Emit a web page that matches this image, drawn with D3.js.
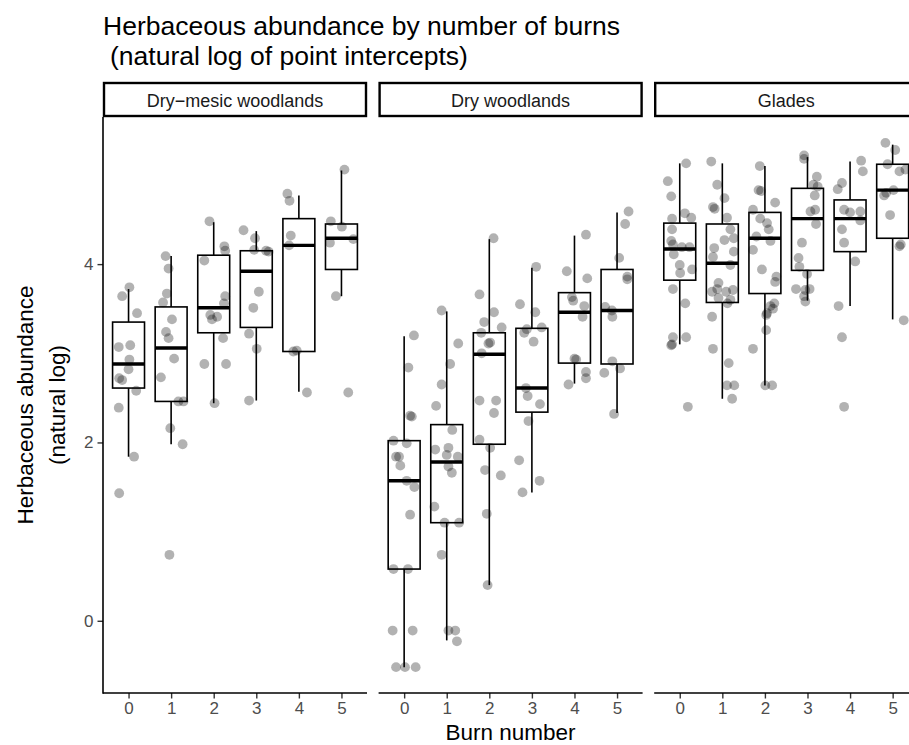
<!DOCTYPE html>
<html>
<head>
<meta charset="utf-8">
<script src="https://cdn.jsdelivr.net/npm/d3@7"></script>
<style>
  body { margin: 0; background: #fff; }
  svg { display: block; font-family: "Liberation Sans", Arial, Helvetica, sans-serif; }
</style>
</head>
<body>
<div id="chart"></div>
<script>
var facets = ["Dry\u2212mesic woodlands", "Dry woodlands", "Glades"]
var burns = [0, 1, 2, 3, 4, 5]
var yTicks = [0, 2, 4]

// points: [burn, ln(abundance), horizontal jitter in burn units]
var dryMesicPoints = [
  [0, 3.74, 0.02], [0, 3.64, -0.15], [0, 3.45, 0.20], [0, 3.07, -0.23], [0, 3.09, 0.04],
  [0, 2.93, 0.02], [0, 2.82, 0.00], [0, 2.72, -0.22], [0, 2.70, -0.15], [0, 2.58, 0.18],
  [0, 2.39, -0.23], [0, 1.84, 0.13], [0, 1.43, -0.22],
  [1, 4.09, -0.13], [1, 3.95, -0.06], [1, 3.67, -0.10], [1, 3.57, -0.19], [1, 3.38, 0.02],
  [1, 3.24, -0.12], [1, 3.17, -0.06], [1, 2.94, 0.07], [1, 2.73, -0.24], [1, 2.46, 0.17],
  [1, 2.46, 0.29], [1, 2.16, -0.02], [1, 1.98, 0.27], [1, 0.74, -0.04],
  [2, 4.48, -0.10], [2, 4.20, 0.25], [2, 4.15, 0.27], [2, 4.04, -0.22], [2, 3.64, 0.27],
  [2, 3.56, 0.24], [2, 3.43, -0.08], [2, 3.41, 0.08], [2, 3.38, -0.04], [2, 3.17, 0.22],
  [2, 2.88, -0.22], [2, 2.88, 0.29], [2, 2.44, 0.02],
  [3, 4.38, -0.30], [3, 4.29, -0.03], [3, 4.16, -0.05], [3, 4.15, 0.23], [3, 4.14, 0.29],
  [3, 3.69, 0.06], [3, 3.51, -0.07], [3, 3.22, -0.17], [3, 3.05, 0.01], [3, 2.47, -0.17],
  [4, 4.79, -0.27], [4, 4.71, -0.22], [4, 4.32, -0.19], [4, 4.21, -0.23], [4, 3.03, -0.05],
  [4, 3.02, -0.13], [4, 2.56, 0.19],
  [5, 5.06, 0.07], [5, 4.48, -0.25], [5, 4.42, 0.01], [5, 4.28, 0.28], [5, 4.24, -0.27],
  [5, 3.64, -0.13], [5, 2.56, 0.16]
]

var dryPoints = [
  [0, 3.20, 0.23], [0, 2.84, 0.10], [0, 2.30, 0.14], [0, 2.29, 0.18], [0, 2.02, -0.25],
  [0, 1.99, 0.06], [0, 1.84, -0.19], [0, 1.84, -0.12], [0, 1.74, -0.09], [0, 1.57, 0.06],
  [0, 1.50, 0.24], [0, 1.19, 0.14], [0, 0.58, -0.25], [0, 0.58, 0.09], [0, -0.11, -0.27],
  [0, -0.11, 0.20], [0, -0.52, -0.19], [0, -0.52, 0.02], [0, -0.52, 0.27],
  [1, 3.48, -0.12], [1, 3.11, 0.27], [1, 2.88, 0.08], [1, 2.65, -0.12], [1, 2.41, -0.25],
  [1, 2.14, 0.13], [1, 1.92, -0.27], [1, 1.94, 0.04], [1, 1.86, 0.00], [1, 1.84, 0.26],
  [1, 1.73, 0.04], [1, 1.66, 0.12], [1, 1.28, -0.29], [1, 1.10, -0.05], [1, 1.10, 0.29],
  [1, 0.74, -0.12], [1, -0.11, 0.04], [1, -0.11, 0.20], [1, -0.23, 0.24],
  [2, 4.29, 0.10], [2, 3.66, -0.23], [2, 3.46, 0.11], [2, 3.35, -0.12], [2, 3.29, 0.29],
  [2, 3.23, -0.19], [2, 3.12, 0.02], [2, 3.11, -0.02], [2, 3.00, -0.18], [2, 2.47, -0.23],
  [2, 2.47, 0.16], [2, 2.33, 0.11], [2, 2.03, -0.23], [2, 1.94, 0.02], [2, 1.69, -0.10],
  [2, 1.63, 0.27], [2, 1.20, -0.06], [2, 0.40, -0.04],
  [3, 3.97, 0.10], [3, 3.55, -0.28], [3, 3.46, 0.08], [3, 3.27, -0.12], [3, 3.29, 0.23],
  [3, 3.23, -0.18], [3, 3.13, 0.04], [3, 2.61, -0.14], [3, 2.52, -0.10], [3, 2.43, 0.19],
  [3, 2.24, -0.08], [3, 1.80, -0.30], [3, 1.57, 0.18], [3, 1.44, -0.22],
  [4, 4.33, 0.27], [4, 3.92, -0.18], [4, 3.84, 0.30], [4, 3.63, -0.06], [4, 3.59, -0.03],
  [4, 3.53, 0.23], [4, 3.41, 0.19], [4, 2.94, 0.00], [4, 2.93, 0.04], [4, 2.79, 0.27],
  [4, 2.72, 0.27], [4, 2.65, -0.14],
  [5, 4.59, 0.27], [5, 4.45, 0.19], [5, 4.07, 0.05], [5, 3.86, 0.24], [5, 3.83, 0.24],
  [5, 3.52, -0.28], [5, 3.48, -0.12], [5, 3.41, -0.11], [5, 2.91, -0.11], [5, 2.83, 0.07],
  [5, 2.78, -0.30], [5, 2.32, -0.07]
]

var gladesPoints = [
  [0, 5.13, 0.15], [0, 4.93, -0.28], [0, 4.76, -0.20], [0, 4.57, 0.12], [0, 4.52, 0.27],
  [0, 4.51, -0.18], [0, 4.39, -0.18], [0, 4.26, -0.20], [0, 4.22, -0.16], [0, 4.19, 0.05],
  [0, 4.19, 0.23], [0, 4.11, -0.14], [0, 3.99, 0.00], [0, 3.90, 0.01], [0, 3.94, 0.29],
  [0, 3.72, -0.16], [0, 3.56, 0.13], [0, 3.18, -0.16], [0, 3.18, 0.15], [0, 3.10, -0.18],
  [0, 3.09, -0.20], [0, 2.40, 0.19],
  [1, 5.15, -0.26], [1, 4.89, -0.12], [1, 4.74, 0.05], [1, 4.64, -0.22], [1, 4.62, -0.18],
  [1, 4.52, 0.11], [1, 4.39, 0.19], [1, 4.27, 0.05], [1, 4.29, 0.27], [1, 4.18, -0.19],
  [1, 4.14, 0.27], [1, 4.08, -0.22], [1, 3.99, 0.19], [1, 3.79, -0.09], [1, 3.72, -0.12],
  [1, 3.69, -0.24], [1, 3.69, 0.09], [1, 3.71, 0.25], [1, 3.62, -0.09], [1, 3.60, 0.19],
  [1, 3.56, 0.12], [1, 3.41, -0.24], [1, 3.05, -0.22], [1, 2.89, 0.15], [1, 2.64, 0.11],
  [1, 2.64, 0.28], [1, 2.49, 0.23],
  [2, 5.10, -0.12], [2, 4.83, -0.15], [2, 4.82, -0.09], [2, 4.69, 0.24], [2, 4.61, -0.28],
  [2, 4.51, -0.11], [2, 4.46, 0.05], [2, 4.39, 0.09], [2, 4.31, -0.20], [2, 4.26, 0.13],
  [2, 4.16, -0.28], [2, 3.94, -0.07], [2, 3.86, 0.27], [2, 3.80, 0.24], [2, 3.53, 0.13],
  [2, 3.56, 0.22], [2, 3.45, 0.05], [2, 3.50, 0.19], [2, 3.43, 0.03], [2, 3.26, 0.03],
  [2, 3.05, -0.28], [2, 2.64, 0.01], [2, 2.64, 0.17],
  [3, 5.22, -0.08], [3, 5.18, -0.08], [3, 4.98, 0.22], [3, 4.89, 0.14], [3, 4.87, 0.24],
  [3, 4.77, 0.17], [3, 4.59, 0.07], [3, 4.61, 0.18], [3, 4.45, 0.20], [3, 4.24, -0.13],
  [3, 4.07, -0.21], [3, 3.97, -0.19], [3, 3.89, -0.01], [3, 3.72, -0.27], [3, 3.71, -0.05],
  [3, 3.72, 0.05], [3, 3.64, -0.08], [3, 3.58, -0.05],
  [4, 5.16, 0.26], [4, 5.04, 0.30], [4, 4.91, -0.19], [4, 4.84, -0.29], [4, 4.61, -0.14],
  [4, 4.58, 0.00], [4, 4.59, 0.24], [4, 4.49, 0.24], [4, 4.39, -0.19], [4, 4.24, -0.14],
  [4, 4.03, 0.12], [4, 3.53, -0.27], [4, 3.18, -0.19], [4, 2.40, -0.14],
  [5, 5.36, -0.17], [5, 5.28, 0.06], [5, 5.12, -0.12], [5, 5.04, 0.16], [5, 5.06, 0.30],
  [5, 4.83, 0.02], [5, 4.77, -0.20], [5, 4.80, -0.15], [5, 4.55, -0.06], [5, 4.22, 0.19],
  [5, 4.20, 0.16], [5, 3.37, 0.26]
]

// boxplot summaries per burn: [lower whisker, q1, median, q3, upper whisker]
var dryMesicBoxes = [
  [1.84, 2.61, 2.88, 3.35, 3.72], [1.98, 2.46, 3.06, 3.52, 4.09], [2.44, 3.23, 3.51, 4.10, 4.47],
  [2.47, 3.29, 3.92, 4.15, 4.37], [2.57, 3.02, 4.21, 4.51, 4.77], [3.64, 3.94, 4.29, 4.45, 5.05]
]
var dryBoxes = [
  [-0.52, 0.58, 1.57, 2.02, 3.19], [-0.22, 1.10, 1.78, 2.20, 3.47], [0.40, 1.98, 2.99, 3.23, 4.28],
  [1.44, 2.34, 2.61, 3.28, 3.96], [2.66, 2.89, 3.46, 3.68, 4.32], [2.33, 2.88, 3.48, 3.94, 4.58]
]
var gladesBoxes = [
  [3.10, 3.82, 4.17, 4.46, 5.13], [2.49, 3.57, 4.01, 4.45, 5.13], [2.64, 3.67, 4.29, 4.58, 5.10],
  [3.59, 3.93, 4.51, 4.85, 5.20], [3.53, 4.14, 4.51, 4.72, 5.15], [3.38, 4.29, 4.83, 5.12, 5.34]
]

var facetPoints = [dryMesicPoints, dryPoints, gladesPoints]
var facetBoxes = [dryMesicBoxes, dryBoxes, gladesBoxes]

var width = 909, height = 745
var panelTop = 117, panelBottom = 693
var stripTop = 83

var svg = d3.select("#chart").append("svg")
  .attr("width", width)
  .attr("height", height)

// panels are 264px wide with an 11.6px gap, the third runs past the right edge
var panel = d3.scaleBand()
  .domain(facets)
  .range([103, 103 + 3 * 264 + 2 * 11.6])
  .paddingInner(11.6 / 275.6)
  .paddingOuter(0)

var y = d3.scaleLinear().domain([-0.81, 5.65]).range([panelBottom, panelTop])

// title
svg.append("text").attr("x", 103).attr("y", 34.5)
  .style("font-size", "26.5px").attr("fill", "#000")
  .text("Herbaceous abundance by number of burns")
svg.append("text").attr("x", 110).attr("y", 65)
  .style("font-size", "26.5px").attr("fill", "#000")
  .text("(natural log of point intercepts)")

facets.forEach(function(f, i) {
  var x0 = panel(f)
  var bw = panel.bandwidth()
  var x = d3.scalePoint().domain(burns).range([x0, x0 + bw]).padding(0.6)
  var step = x.step()
  var g = svg.append("g")

  // strip
  g.append("rect")
    .attr("x", x0 + 1).attr("y", stripTop)
    .attr("width", bw - 2).attr("height", panelTop - stripTop - 1)
    .attr("fill", "#fff").attr("stroke", "#000").attr("stroke-width", 2.4)
  g.append("text")
    .attr("x", x0 + bw / 2).attr("y", 106.5)
    .attr("text-anchor", "middle")
    .style("font-size", "18px").attr("fill", "#1A1A1A")
    .text(f)

  // boxes
  var boxes = g.selectAll("g.box").data(facetBoxes[i]).enter().append("g").attr("class", "box")
  boxes.append("line")
    .attr("x1", function(d, j) { return x(burns[j]) }).attr("x2", function(d, j) { return x(burns[j]) })
    .attr("y1", function(d) { return y(d[4]) }).attr("y2", function(d) { return y(d[3]) })
    .attr("stroke", "#000").attr("stroke-width", 1.6)
  boxes.append("line")
    .attr("x1", function(d, j) { return x(burns[j]) }).attr("x2", function(d, j) { return x(burns[j]) })
    .attr("y1", function(d) { return y(d[1]) }).attr("y2", function(d) { return y(d[0]) })
    .attr("stroke", "#000").attr("stroke-width", 1.6)
  boxes.append("rect")
    .attr("x", function(d, j) { return x(burns[j]) - 0.375 * step })
    .attr("width", 0.75 * step)
    .attr("y", function(d) { return y(d[3]) })
    .attr("height", function(d) { return y(d[1]) - y(d[3]) })
    .attr("fill", "#fff").attr("stroke", "#000").attr("stroke-width", 1.6)
  boxes.append("line")
    .attr("x1", function(d, j) { return x(burns[j]) - 0.375 * step })
    .attr("x2", function(d, j) { return x(burns[j]) + 0.375 * step })
    .attr("y1", function(d) { return y(d[2]) }).attr("y2", function(d) { return y(d[2]) })
    .attr("stroke", "#000").attr("stroke-width", 3.4)

  // jittered points
  g.selectAll("circle").data(facetPoints[i]).enter().append("circle")
    .attr("cx", function(d) { return x(d[0]) + d[2] * step })
    .attr("cy", function(d) { return y(d[1]) })
    .attr("r", 4.9)
    .attr("fill", "#000").attr("fill-opacity", 0.3)

  // x axis
  var xa = g.append("g")
    .attr("transform", "translate(0," + panelBottom + ")")
    .call(d3.axisBottom(x).tickSize(5.5).tickPadding(3))
  xa.select(".domain").remove()
  xa.selectAll(".tick line").attr("stroke", "#333").attr("stroke-width", 1.4)
  xa.selectAll(".tick text").attr("fill", "#4D4D4D")
    .style("font-size", "17px").style("font-family", "Liberation Sans, Arial, sans-serif")
  g.append("line")
    .attr("x1", x0).attr("x2", x0 + bw)
    .attr("y1", panelBottom).attr("y2", panelBottom)
    .attr("stroke", "#000").attr("stroke-width", 1.6)

  // y axis only on the first panel
  if (i === 0) {
    var ya = g.append("g")
      .attr("transform", "translate(" + x0 + ",0)")
      .call(d3.axisLeft(y).tickValues(yTicks).tickFormat(d3.format("d"))
        .tickSize(5.5).tickPadding(4).tickSizeOuter(0))
    ya.select(".domain").remove()
    ya.selectAll(".tick line").attr("stroke", "#333").attr("stroke-width", 1.4)
    ya.selectAll(".tick text").attr("fill", "#4D4D4D")
      .style("font-size", "17px").style("font-family", "Liberation Sans, Arial, sans-serif")
    g.append("line")
      .attr("x1", x0).attr("x2", x0)
      .attr("y1", panelTop).attr("y2", panelBottom + 0.8)
      .attr("stroke", "#000").attr("stroke-width", 1.6)
  }
})

// axis titles
svg.append("text")
  .attr("x", 510.5).attr("y", 740)
  .attr("text-anchor", "middle")
  .style("font-size", "22.5px").attr("fill", "#000")
  .text("Burn number")

var yTitle = svg.append("text")
  .attr("transform", "translate(0," + ((panelTop + panelBottom) / 2) + ") rotate(-90)")
  .attr("text-anchor", "middle")
  .style("font-size", "22.5px").attr("fill", "#000")
yTitle.append("tspan").attr("x", 0).attr("y", 33).text("Herbaceous abundance")
yTitle.append("tspan").attr("x", 0).attr("y", 65).text("(natural log)")
</script>
</body>
</html>
